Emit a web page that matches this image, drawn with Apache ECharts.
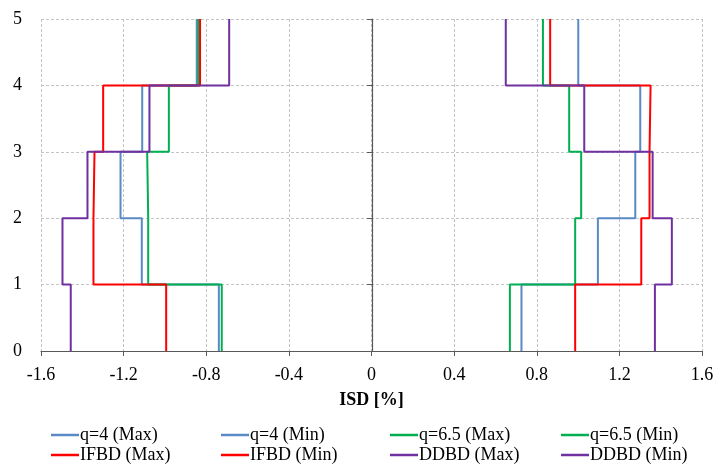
<!DOCTYPE html>
<html>
<head>
<meta charset="utf-8">
<script src="https://cdn.jsdelivr.net/npm/echarts@6/dist/echarts.min.js"></script>
<style>html,body{margin:0;padding:0;background:#fff}#c{width:717px;height:465px}</style>
</head>
<body>
<div id="c"></div>
<script>
// Story levels (floor boundaries)
var stories = [0, 1, 2, 3, 4, 5];
var xTicks = [-1.6, -1.2, -0.8, -0.4, 0, 0.4, 0.8, 1.2, 1.6];
// Inter-storey drift per storey (storey 1..5), in %
var q4Max   = [0.726, 1.096, 1.277, 1.301, 1.001];
var q4Min   = [-0.739, -1.112, -1.215, -1.110, -0.846];
var q65Max  = [0.670, 0.986, 1.015, 0.957, 0.830];
var q65Min  = [-0.725, -1.081, -1.086, -0.981, -0.839];
var ifbdMax = [0.986, 1.306, 1.346, 1.351, 0.865];
var ifbdMin = [-0.994, -1.346, -1.341, -1.299, -0.830];
var ddbdMax = [1.372, 1.454, 1.361, 1.030, 0.650];
var ddbdMin = [-1.456, -1.496, -1.375, -1.075, -0.689];

var names = ['q=4 (Max)', 'q=4 (Min)', 'q=6.5 (Max)', 'q=6.5 (Min)', 'IFBD (Max)', 'IFBD (Min)', 'DDBD (Max)', 'DDBD (Min)'];
var values = [q4Max, q4Min, q65Max, q65Min, ifbdMax, ifbdMin, ddbdMax, ddbdMin];
var colors = ['#5A8AC6', '#5A8AC6', '#00B050', '#00B050', '#FF0000', '#FF0000', '#7030A0', '#7030A0'];

function stepPoints(v) {
  var pts = [];
  for (var i = 0; i < v.length; i++) {
    pts.push([v[i], stories[i]]);
    pts.push([v[i], stories[i + 1]]);
  }
  return pts;
}

var font = 'Liberation Serif, Times New Roman, serif';
var series = names.map(function (n, i) {
  return {
    name: n, type: 'line', data: stepPoints(values[i]), symbol: 'none',
    lineStyle: { color: colors[i], width: 2 }, itemStyle: { color: colors[i] },
    xAxisIndex: 0, yAxisIndex: 0
  };
});

var colLeft = [51, 221, 390, 561];
var rowTop = [426, 446];
var legends = names.map(function (n, i) {
  var col = i % 4, row = Math.floor(i / 4);
  return {
    data: [{ name: n, icon: 'rect' }], left: colLeft[col], top: rowTop[row],
    itemWidth: 28, itemHeight: 2.5, padding: 0,
    textStyle: { fontFamily: font, fontSize: 18, color: '#000', padding: [0, 0, 0, -4] }
  };
});

var chart = echarts.init(document.getElementById('c'));
chart.setOption({
  animation: false,
  grid: { left: 41, right: 15, top: 19, bottom: 114 },
  legend: legends,
  xAxis: {
    type: 'value', min: -1.6, max: 1.6, interval: 0.4,
    name: 'ISD [%]', nameLocation: 'middle', nameGap: 40,
    nameTextStyle: { fontFamily: font, fontSize: 18, fontWeight: 'bold', color: '#000' },
    axisLine: { show: true, onZero: false, lineStyle: { color: '#595959', width: 1.2 } },
    axisTick: { show: true, length: 5, lineStyle: { color: '#595959' } },
    axisLabel: { fontFamily: font, fontSize: 18, color: '#000', margin: 15,
      formatter: function (v) { var t = xTicks.filter(function (x) { return Math.abs(x - v) < 1e-6; }); return t.length ? String(t[0]) : ''; } },
    splitLine: { show: true, lineStyle: { color: '#c4c4c4', type: [3, 2], width: 1 } }
  },
  yAxis: [{
    type: 'value', min: 0, max: 5, interval: 1,
    axisLine: { show: false }, axisTick: { show: false },
    axisLabel: { fontFamily: font, fontSize: 18, color: '#000', margin: 19 },
    splitLine: { show: true, lineStyle: { color: '#c4c4c4', type: [3, 2], width: 1 } }
  }, {
    type: 'value', min: 0, max: 5, interval: 1, position: 'left', offset: -331,
    axisLine: { show: true, onZero: false, lineStyle: { color: '#595959', width: 1.2 } },
    axisTick: { show: true, length: 5, lineStyle: { color: '#595959' } },
    axisLabel: { show: false }, splitLine: { show: false }
  }],
  series: series
});
</script>
</body>
</html>
